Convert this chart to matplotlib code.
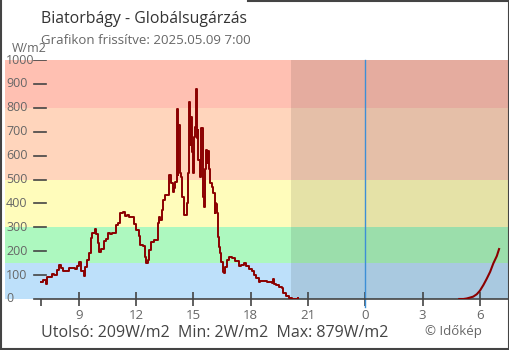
import matplotlib
matplotlib.use("Agg")
import matplotlib.pyplot as plt
import pandas as pd

plt.rcParams['font.family'] = ['Open Sans', 'DejaVu Sans']

# napi mérések (május 8.)
day_times = ["07:00", "07:09", "07:17", "07:20", "07:30", "07:36", "07:41", "07:46", "07:51", "07:59",
             "08:05", "08:12", "08:23", "08:28", "08:41", "08:47", "08:54", "09:02", "09:08", "09:15",
             "09:20", "09:26", "09:31", "09:39", "09:43", "09:50", "09:55", "10:00", "10:05", "10:11",
             "10:18", "10:25", "10:32", "10:39", "10:46", "10:58", "11:03", "11:10", "11:18", "11:24",
             "11:31", "11:39", "11:47", "11:52", "12:01", "12:08", "12:13", "12:22", "12:27", "12:32",
             "12:37", "12:42", "12:47", "12:55", "13:04", "13:08", "13:11", "13:16", "13:21", "13:26",
             "13:32", "13:42", "13:45", "13:50", "13:55", "14:00", "14:03", "14:08", "14:11", "14:13",
             "14:17", "14:21", "14:24", "14:29", "14:37", "14:41", "14:43", "14:45", "14:48", "14:50",
             "14:53", "14:56", "14:59", "15:02", "15:06", "15:08", "15:11", "15:14", "15:16", "15:20",
             "15:23", "15:25", "15:29", "15:31", "15:34", "15:37", "15:40", "15:43", "15:46", "15:48",
             "15:53", "15:58", "16:03", "16:07", "16:09", "16:12", "16:14", "16:17", "16:21", "16:24",
             "16:27", "16:32", "16:35", "16:40", "16:46", "16:51", "17:01", "17:12", "17:22", "17:31",
             "17:38", "17:46", "17:54", "18:04", "18:09", "18:18", "18:25", "18:30", "18:40", "18:51",
             "19:01", "19:06", "19:09", "19:13", "19:20", "19:28", "19:38", "19:43", "19:52", "19:59",
             "20:09", "20:20", "20:27"]
day_vals = [72, 79, 63, 91, 91, 105, 100, 100, 121, 142,
            128, 117, 117, 131, 131, 126, 138, 153, 118, 96,
            135, 163, 194, 254, 275, 293, 270, 233, 198, 210,
            244, 250, 277, 272, 277, 310, 318, 358, 362, 349,
            352, 342, 342, 312, 289, 264, 226, 222, 177, 152,
            163, 205, 240, 247, 247, 317, 342, 331, 372, 414,
            435, 512, 519, 484, 449, 463, 490, 794, 519, 728,
            527, 512, 428, 351, 351, 400, 527, 826, 804, 644,
            763, 617, 527, 679, 721, 879, 672, 707, 582, 512,
            617, 714, 533, 428, 386, 544, 623, 568, 621, 544,
            484, 470, 442, 358, 400, 398, 358, 261, 219, 191,
            156, 114, 107, 133, 163, 177, 170, 159, 139, 142,
            152, 138, 126, 117, 100, 87, 72, 75, 77, 72,
            72, 67, 82, 63, 59, 49, 46, 24, 13, 5,
            2, 2, 5]

# hajnali mérések (május 9.)
morning_times = ["04:55", "05:08", "05:18", "05:29", "05:39", "05:50", "06:00", "06:11", "06:21",
                 "06:32", "06:42", "06:53", "07:00"]
morning_vals = [0, 0, 2, 6, 10, 20, 35, 59, 84, 114, 149, 180, 209]

band_edges = [0, 150, 300, 500, 800, 1000]
band_colors = ["#bde0fa", "#adf8bf", "#fffcbb", "#ffd5bc", "#ffc0b2"]

xtick_pos = [9, 12, 15, 18, 21, 24, 27, 30]
xtick_labels = ["9", "12", "15", "18", "21", "0", "3", "6"]
ytick_vals = list(range(0, 1001, 100))

sunset = 20.11
midnight = 24


def to_hours(times, offset=0):
    t = pd.to_datetime(times, format="%H:%M")
    return t.hour + t.minute / 60 + offset


day_x = to_hours(day_times)
morning_x = to_hours(morning_times, 24)

fig = plt.figure(figsize=(5.1, 3.5), dpi=100)
ax = fig.add_axes([5 / 510, 1 - 299 / 350, 504 / 510, 239 / 350])
ax.set_xlim(5.14, 31.52)
ax.set_ylim(0, 1000)

for lo, hi, c in zip(band_edges[:-1], band_edges[1:], band_colors):
    ax.axhspan(lo, hi, color=c, lw=0, zorder=0)

# éjszaka
ax.axvspan(sunset, 31.52, color="black", alpha=0.1, lw=0, zorder=1)
ax.axvline(midnight, ymin=-0.035, ymax=1, color="#3d8fd6", lw=1, clip_on=False, zorder=2)

ax.plot(day_x, day_vals, color="#8b0000", lw=1.4, drawstyle="steps-post", zorder=3)
ax.plot(morning_x, morning_vals, color="#8b0000", lw=1.5, zorder=3)

# y tengely jelölései a sávokon belül
for v in ytick_vals[1:]:
    ax.plot([6.655, 7.28], [v, v], color="#444444", lw=1.2, zorder=4)
for v in ytick_vals:
    ax.text(5.2, v, str(v), ha="left", va="center", fontsize=9, color="#666666", zorder=5)

for s in ["top", "left", "right"]:
    ax.spines[s].set_visible(False)
ax.spines["bottom"].set_bounds(6.655, 31.52)
ax.spines["bottom"].set_color("#444444")
ax.spines["bottom"].set_linewidth(1.2)
ax.set_yticks([])
ax.set_xticks(xtick_pos)
ax.set_xticklabels(xtick_labels)
ax.set_xticks([7], minor=True)
ax.tick_params(axis="x", which="major", direction="inout", length=10, width=1.2,
               color="#444444", labelcolor="#666666", labelsize=9.5, pad=2)
ax.tick_params(axis="x", which="minor", direction="out", length=5, width=1.2, color="#444444")

fig.text(41 / 510, 1 - 19 / 350, "Biatorbágy - Globálsugárzás", fontsize=11.4,
         color="#333333", va="center")
fig.text(41 / 510, 1 - 40 / 350, "Grafikon frissítve: 2025.05.09 7:00", fontsize=9.5,
         color="#666666", va="center")
fig.text(12 / 510, 1 - 49 / 350, "W/m2", fontsize=9, color="#666666", va="center")
fig.text(41 / 510, 1 - 333 / 350, "Utolsó: 209W/m2  Min: 2W/m2  Max: 879W/m2", fontsize=11.5,
         color="#444444", va="center")
fig.text(425 / 510, 1 - 331 / 350, "© Időkép", fontsize=9.5, color="#666666", va="center")

# keret
border = dict(color="#444444", lw=1.5, transform=fig.transFigure, clip_on=False)
fig.add_artist(plt.Line2D([0.001, 0.001], [0, 1], **border))
fig.add_artist(plt.Line2D([0, 1], [0.003, 0.003], **border))
fig.add_artist(plt.Line2D([0.999, 0.999], [0, 1], **border))
fig.add_artist(plt.Line2D([248 / 510, 1], [0.998, 0.998], **border))

fig.savefig("out.png", dpi=100)
